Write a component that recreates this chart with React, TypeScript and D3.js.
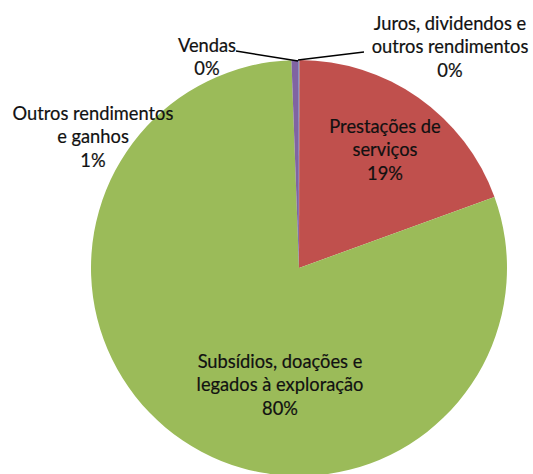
import React from "react";
import * as d3 from "d3";

const categories = [
  "Juros, dividendos e outros rendimentos",
  "Prestações de serviços",
  "Subsídios, doações e legados à exploração",
  "Outros rendimentos e ganhos",
  "Vendas",
];
const values = [0.03, 19.42, 79.97, 0.55, 0.03];
const colors = ["#4BACC6", "#C0504D", "#9BBB59", "#8064A2", "#4F81BD"];
const labelLines = [
  ["Juros, dividendos e", "outros rendimentos"],
  ["Prestações de", "serviços"],
  ["Subsídios, doações e", "legados à exploração"],
  ["Outros rendimentos", "e ganhos"],
  ["Vendas"],
];

// layout (label anchor: centre x, first baseline y)
const labelPos: [number, number][] = [
  [450, 30],
  [385, 133],
  [280, 368],
  [93, 120],
  [207, 52],
];
const leaders: ([number, number][] | null)[] = [
  [[364, 52], [298, 60]],
  null,
  null,
  null,
  [[236, 51], [298, 61]],
];

export default function App() {
  const W = 533, H = 474;
  const cx = 299, cy = 268, R = 208;
  const total = d3.sum(values);
  const pie = d3.pie<number>().sort(null).value((d) => d)(values);
  const arc = d3.arc<d3.PieArcDatum<number>>().innerRadius(0).outerRadius(R);
  const lh = 23.3;
  return (
    <svg width={W} height={H} style={{ position: "absolute", left: 0, top: 0, background: "#fff" }}
      fontFamily="Lato, 'Open Sans', sans-serif" fontSize={18.3}>
      <g transform={`translate(${cx},${cy})`}>
        {pie.map((p, i) => (
          <path key={i} d={arc(p) || ""} fill={colors[i]} />
        ))}
      </g>
      {leaders.map((l, i) =>
        l ? (
          <polyline key={i} points={l.map((q) => q.join(",")).join(" ")} fill="none" stroke="#000" strokeWidth={1.5} />
        ) : null
      )}
      {labelLines.map((lines, i) => {
        const pct = Math.round((values[i] / total) * 100) + "%";
        const all = [...lines, pct];
        return (
          <text key={i} textAnchor="middle" fill="#111" stroke="#111" strokeWidth={0.2}>
            {all.map((t, j) => (
              <tspan key={j} x={labelPos[i][0]} y={labelPos[i][1] + j * lh}>{t}</tspan>
            ))}
          </text>
        );
      })}
    </svg>
  );
}
